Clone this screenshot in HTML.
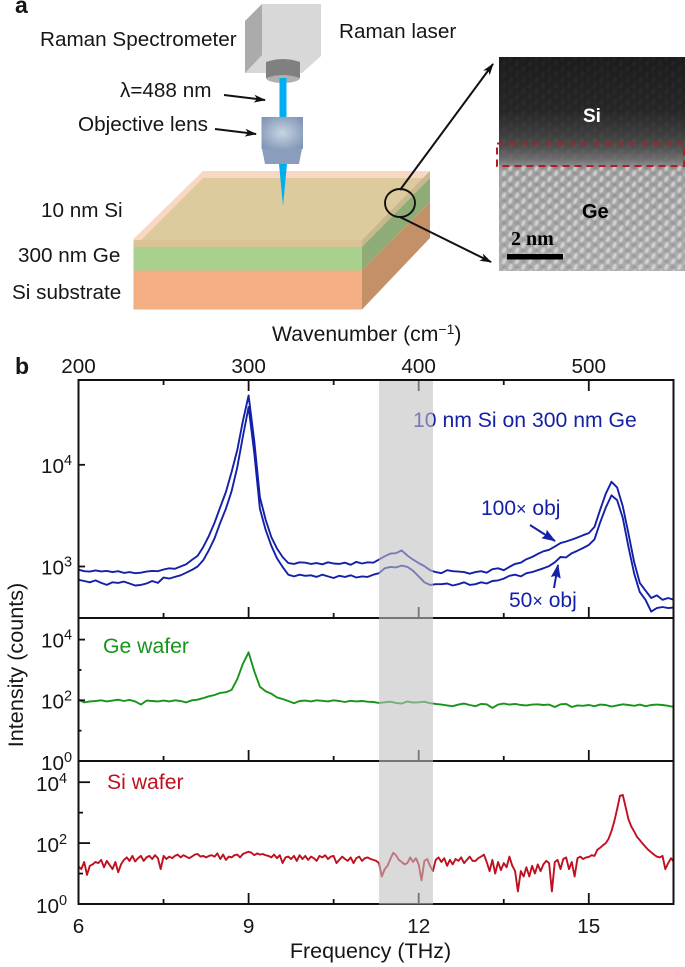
<!DOCTYPE html>
<html lang="en">
<head>
<meta charset="utf-8">
<title>Raman setup and spectra</title>
<style>
html,body{margin:0;padding:0;background:#fff;}
svg{display:block;}
text{font-family:"Liberation Sans",sans-serif;font-size:20.7px;fill:#161616;}
</style>
</head>
<body>
<svg id="fig" xmlns="http://www.w3.org/2000/svg" width="685" height="967" viewBox="0 0 685 967">
<defs>
<radialGradient id="lensGrad" cx="50%" cy="50%" r="60%">
<stop offset="0" stop-color="#c8d5e2"/><stop offset="1" stop-color="#8398b8"/>
</radialGradient>
<linearGradient id="temGrad" x1="0" y1="0" x2="0" y2="1">
<stop offset="0" stop-color="#1c1c1c"/><stop offset="0.25" stop-color="#262626"/><stop offset="0.36" stop-color="#3d3d3d"/><stop offset="0.42" stop-color="#4e4e4e"/><stop offset="0.48" stop-color="#6f6f6f"/><stop offset="0.53" stop-color="#a0a0a0"/><stop offset="1" stop-color="#adadad"/>
</linearGradient>
<pattern id="lattice" width="13" height="11" patternUnits="userSpaceOnUse">
<ellipse cx="3.5" cy="3" rx="1.8" ry="3.4" fill="#f2f2f2" opacity=".6" transform="rotate(25 3.5 3)"/>
<ellipse cx="10" cy="8.5" rx="1.8" ry="3.4" fill="#f2f2f2" opacity=".6" transform="rotate(25 10 8.5)"/>
<circle cx="10" cy="3" r="2.2" fill="#707070" opacity=".3"/>
<circle cx="3.5" cy="8.5" r="2.2" fill="#707070" opacity=".3"/>
</pattern>
<filter id="soft" x="0" y="0" width="100%" height="100%"><feGaussianBlur stdDeviation="0.7"/></filter>
<marker id="arrowBlack" viewBox="0 0 12 8" refX="11" refY="4" markerWidth="12" markerHeight="8" markerUnits="userSpaceOnUse" orient="auto"><path d="M0 0L12 4L0 8L3 4Z" fill="#111"/></marker>
<marker id="arrowBlue" viewBox="0 0 14 10" refX="13" refY="5" markerWidth="14" markerHeight="10" markerUnits="userSpaceOnUse" orient="auto"><path d="M0 0L14 5L0 10L2 5Z" fill="#1420a8"/></marker>
</defs>

<!-- Panel a -->
<g id="panel-a">
<text x="15" y="13" style="font-weight:bold;font-size:23px">a</text>
<polygon points="245,21 262,4 321,4 321,56 302,73 245,73" fill="#d8d8d8"/>
<polygon points="245,21 262,4 262,55 245,73" fill="#ababab"/>
<ellipse cx="283" cy="78" rx="17" ry="5" fill="#b0b0b0"/>
<path d="M266 62 Q283 56 300 62 V78 Q283 72 266 78 Z" fill="#808080"/>
<rect x="279.5" y="78" width="7" height="40" fill="#00aeef"/>

<polygon points="133.5,239 203,171 430,171 430,178 362,247 133.5,247" fill="#f8d8c3"/>
<polygon points="134,247 203,178 430,178 362,247" fill="#decb9d"/>
<rect x="133.5" y="240" width="228.5" height="7" fill="#dcc396"/>
<rect x="133.5" y="247" width="228.5" height="23.5" fill="#a9d18e"/>
<rect x="133.5" y="270.5" width="228.5" height="39" fill="#f4ae83"/>
<polygon points="362,240 430,171 430,178 362,247" fill="#c9b78f"/>
<polygon points="362,247 430,178 430,202 362,270.5" fill="#8fac76"/>
<polygon points="362,270.5 430,202 430,238 362,309.5" fill="#c49068"/>

<polygon points="261.5,117 303,117 303,149 261.5,149" fill="url(#lensGrad)"/>
<polygon points="262,149 302,149 299,164 265,164" fill="#8a9dbd"/>
<polygon points="279,164 287,164 283,206" fill="#00aeef"/>

<text x="40" y="46">Raman Spectrometer</text>
<text x="339" y="38">Raman laser</text>
<text x="120" y="97">λ=488 nm</text>
<text x="78" y="131">Objective lens</text>
<text x="41" y="217">10 nm Si</text>
<text x="18" y="262">300 nm Ge</text>
<text x="12" y="299">Si substrate</text>
<line x1="224" y1="95" x2="265" y2="100" stroke="#111" stroke-width="2" marker-end="url(#arrowBlack)"/>
<line x1="215" y1="129" x2="256" y2="134" stroke="#111" stroke-width="2" marker-end="url(#arrowBlack)"/>

<ellipse cx="400" cy="203" rx="15" ry="14" fill="none" stroke="#111" stroke-width="1.9"/>
<line x1="400" y1="190" x2="493" y2="64" stroke="#111" stroke-width="2" marker-end="url(#arrowBlack)"/>
<line x1="400" y1="217" x2="491" y2="262" stroke="#111" stroke-width="2" marker-end="url(#arrowBlack)"/>

<g>
<rect x="499" y="57" width="186" height="214" fill="url(#temGrad)"/>
<rect x="499" y="166" width="186" height="105" fill="url(#lattice)" filter="url(#soft)"/>
<rect x="499" y="57" width="186" height="109" fill="url(#lattice)" opacity=".06" filter="url(#soft)"/>
<rect x="497" y="143.5" width="187" height="22.5" fill="none" stroke="#b01e24" stroke-width="2" stroke-dasharray="7 5"/>
<text x="583" y="122" style="font-weight:bold;font-size:19px;fill:#fff">Si</text>
<text x="582" y="218" style="font-weight:bold;font-size:20px;fill:#000">Ge</text>
<text x="511" y="245" style="font-family:'Liberation Serif',serif;font-weight:bold;font-size:20px;fill:#000">2 nm</text>
<rect x="507" y="254" width="56" height="5.5" fill="#000"/>
</g>
</g>

<!-- Panel b -->
<text x="15" y="374" style="font-weight:bold;font-size:23px">b</text>
<text x="272" y="341" style="font-size:21.2px">Wavenumber (cm<tspan dy="-7" style="font-size:14px">−1</tspan><tspan dy="7">)</tspan></text>
<text x="370.5" y="958" text-anchor="middle" style="font-size:21.5px">Frequency (THz)</text>
<text transform="translate(23 665) rotate(-90)" text-anchor="middle" style="font-size:21.6px">Intensity (counts)</text>

<g id="plot"></g>

<text x="413" y="427" style="fill:#1420a8;font-size:21.2px">10 nm Si on 300 nm Ge</text>
<text x="481" y="515" style="fill:#1420a8;font-size:21px">100<tspan style="font-size:18px">×</tspan> obj</text>
<text x="509" y="607" style="fill:#1420a8;font-size:21px">50<tspan style="font-size:18px">×</tspan> obj</text>
<line x1="530" y1="525" x2="555" y2="541" stroke="#1420a8" stroke-width="2" marker-end="url(#arrowBlue)"/>
<line x1="554" y1="588" x2="558" y2="565" stroke="#1420a8" stroke-width="2" marker-end="url(#arrowBlue)"/>
<text x="103" y="653" style="fill:#18941c;font-size:21.2px">Ge wafer</text>
<text x="107" y="789" style="fill:#c01020;font-size:21.2px">Si wafer</text>
<rect x="379" y="381" width="54" height="523.5" fill="#c0c0c0" opacity=".58"/>
</svg>

<script>
// Sample spacing of each series (THz), starting at 6 THz
const startFrequency = 6;
const coarseStep = 0.1;
const fineStep = 0.05;

// 10 nm Si on 300 nm Ge, 100x objective (counts, 0.1 THz spacing)
const stack100x = [
930,900,890,915,895,905,880,900,865,880,
860,870,890,905,900,935,960,950,1000,1050,
1160,1270,1550,2000,2700,3850,5400,8500,14000,27000,
48000,17000,4800,2900,1950,1500,1240,1080,1060,1100,
1090,1060,1080,1050,1100,1070,1060,1090,1040,1110,
1070,1100,1090,1170,1260,1340,1350,1440,1280,1170,
1080,1010,920,880,860,920,900,890,880,850,
880,900,870,940,960,920,990,1060,1090,1180,
1240,1330,1410,1460,1570,1700,1760,1840,1930,2030,
2130,2450,3600,5200,6800,6000,3900,2100,1100,690,
580,490,520,470,490,470];

// 10 nm Si on 300 nm Ge, 50x objective (counts, 0.1 THz spacing)
const stack50x = [
740,720,700,730,690,660,700,690,710,680,
650,660,680,720,690,780,760,790,820,870,
925,1000,1150,1450,1900,2700,3700,5500,9500,19000,
37000,13000,3700,2300,1600,1200,990,830,800,830,
810,820,790,830,800,770,810,790,820,780,
800,790,830,860,960,990,980,1020,990,910,
800,700,660,670,670,680,650,670,700,660,
670,700,680,720,730,760,810,830,800,860,
880,920,960,1010,1100,1240,1230,1350,1430,1520,
1630,1850,2700,3800,5000,4500,3000,1550,850,560,
470,360,390,400,390,395];

// Ge wafer (counts, 0.1 THz spacing)
const geWafer = [
105,85,92,95,100,92,98,105,95,103,
92,72,98,95,92,98,92,100,95,85,
100,105,118,135,150,175,185,220,500,1600,
3800,900,280,200,165,125,110,95,80,95,
98,92,100,96,92,100,95,88,96,92,
95,90,88,82,86,90,82,78,92,84,
86,90,80,76,72,68,64,72,78,70,
64,76,74,56,72,78,72,76,70,68,
72,74,70,72,60,74,76,60,68,66,
70,64,72,70,62,68,74,70,66,72,
64,70,72,70,66,60];

// Si wafer (counts, 0.05 THz spacing)
const siWafer = [
17,14,24,9,18,20,24,22,28,16,26,19,14,24,11,20,28,34,26,38,
25,32,38,26,34,38,30,40,32,14,38,30,36,32,38,42,34,40,36,32,
36,42,44,36,38,34,38,40,36,46,30,42,28,36,34,40,42,34,44,48,
52,48,40,46,42,44,40,38,34,42,32,40,22,34,36,30,38,26,40,30,
38,28,36,32,26,38,34,40,30,36,38,22,28,36,30,26,34,22,32,36,
26,32,34,30,28,26,22,8,14,18,30,48,40,28,24,20,22,34,24,32,
20,6,26,30,18,12,28,34,24,32,18,28,20,30,26,34,22,28,36,26,
26,32,36,42,24,12,28,10,24,13,22,16,36,18,12,2.6,12,8,16,8,
18,10,20,12,20,26,22,2.6,24,28,14,30,34,14,24,8,32,36,30,34,
35,40,38,60,70,85,100,140,250,520,1300,3600,3800,1500,600,350,240,160,125,95,
75,60,50,42,36,34,38,14,22,32,24];

// Axis ticks and labels
const frequencyTicks = [6, 7.5, 9, 10.5, 12, 13.5, 15];
const frequencyLabels = ["6", "", "9", "", "12", "", "15"];
const wavenumberTicks = [200, 250, 300, 350, 400, 450, 500];
const wavenumberLabels = ["200", "", "300", "", "400", "", "500"];
const stackDecades = [3, 4];
const waferDecades = [1, 2, 3, 4];
const waferDecadeLabels = ["0", "2", "4"];

const svgNS = "http://www.w3.org/2000/svg";
const plot = document.getElementById("plot");

function xFreq(f){ return 78.5 + (f - 6) * 56.7; }
function xWave(w){ return 78.5 + (w - 200) * 1.701; }
function yStack(v){ return 566.5 - (Math.log10(v) - 3) * 101.7; }
function yGe(v){ return 761 - Math.log10(v) * 30.35; }
function ySi(v){ return 904 - Math.log10(v) * 30.45; }

function make(tag, attrs){
  const el = document.createElementNS(svgNS, tag);
  for (const k in attrs) el.setAttribute(k, attrs[k]);
  plot.appendChild(el);
  return el;
}

function drawSeries(values, step, yFn, color, name){
  const pts = values.map((v, i) => xFreq(startFrequency + i * step).toFixed(1) + "," + yFn(v).toFixed(1)).join(" ");
  const el = make("polyline", {points: pts, fill: "none", stroke: color, "stroke-width": 1.9, "stroke-linejoin": "round"});
  
  
}

function drawText(x, y, str, anchor, name){
  const el = make("text", {x: x, y: y, "text-anchor": anchor});
  el.textContent = str;
  
  
  return el;
}

function drawPowerLabel(x, y, exponent, name){
  const el = make("text", {x: x, y: y});
  el.textContent = "10";
  const sup = document.createElementNS(svgNS, "tspan");
  sup.setAttribute("dy", "-8");
  sup.setAttribute("style", "font-size:14.5px");
  sup.textContent = exponent;
  el.appendChild(sup);
  
  
}

function drawTick(x1, y1, x2, y2, name){
  const el = make("line", {x1: x1, y1: y1, x2: x2, y2: y2, stroke: "#111", "stroke-width": 1.8});
  
  
}

// Series
drawSeries(stack100x, coarseStep, yStack, "#1420a8", "series-100x");
drawSeries(stack50x, coarseStep, yStack, "#1420a8", "series-50x");
drawSeries(geWafer, coarseStep, yGe, "#18941c", "series-ge-wafer");
drawSeries(siWafer, fineStep, ySi, "#c01020", "series-si-wafer");

// Panel frames
[[380, 618, "panel-stack-frame"], [618, 761, "panel-ge-frame"], [761, 904, "panel-si-frame"]].forEach(function(p){
  const el = make("rect", {x: 78.5, y: p[0], width: 595, height: p[1] - p[0], fill: "none", stroke: "#111", "stroke-width": 2});
  
  
});

// Top axis
wavenumberTicks.forEach(function(w, i){
  const len = wavenumberLabels[i] ? 11 : 5;
  drawTick(xWave(w), 380, xWave(w), 380 + len, "top-tick");
  if (wavenumberLabels[i]) drawText(xWave(w), 373, wavenumberLabels[i], "middle", "top-tick-label");
});

// Bottom ticks for every panel
frequencyTicks.forEach(function(f, i){
  const len = frequencyLabels[i] ? 11 : 5;
  [618, 761, 904].forEach(function(base){
    if (f > 6) drawTick(xFreq(f), base, xFreq(f), base - len, "frequency-tick");
  });
  if (frequencyLabels[i]) drawText(xFreq(f), 933, frequencyLabels[i], "middle", "frequency-tick-label");
});

// Y ticks
stackDecades.forEach(function(d){
  drawTick(78.5, yStack(Math.pow(10, d)), 85, yStack(Math.pow(10, d)), "stack-y-tick");
  drawPowerLabel(41, yStack(Math.pow(10, d)) + 8, String(d), "stack-y-label");
});
waferDecades.forEach(function(d){
  const major = d % 2 === 0;
  drawTick(78.5, yGe(Math.pow(10, d)), major ? 85 : 81.5, yGe(Math.pow(10, d)), "ge-y-tick");
  drawTick(78.5, ySi(Math.pow(10, d)), major ? 90 : 83, ySi(Math.pow(10, d)), "si-y-tick");
});
waferDecadeLabels.forEach(function(e){
  const v = Math.pow(10, Number(e));
  drawPowerLabel(41, yGe(v) + (e === "0" ? 9 : 8), e, "ge-y-label");
  drawPowerLabel(36, ySi(v) + 9, e, "si-y-label");
});
</script>
</body>
</html>
